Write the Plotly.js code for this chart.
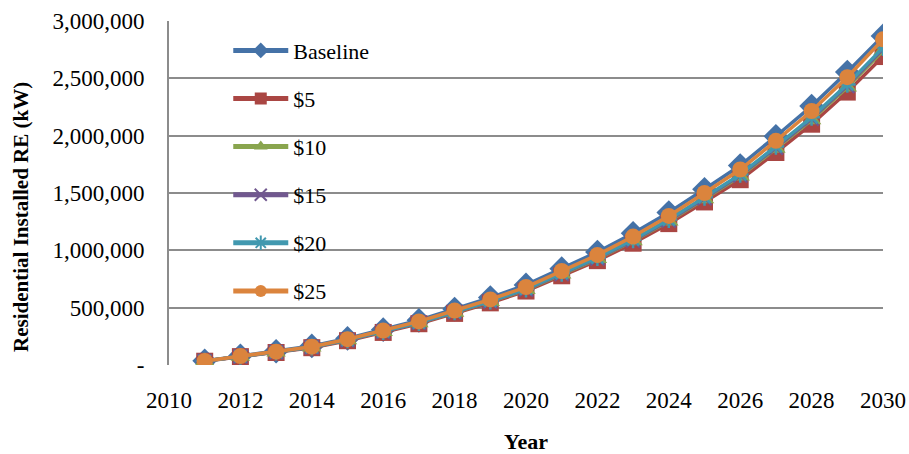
<!DOCTYPE html>
<html>
<head>
<meta charset="utf-8">
<script src="https://cdn.plot.ly/plotly-3.0.1.min.js"></script>
<style>html,body{margin:0;padding:0;background:#fff;}#chart{width:909px;height:454px;}</style>
</head>
<body>
<div id="chart"></div>
<script>
const years = [2011,2012,2013,2014,2015,2016,2017,2018,2019,2020,2021,2022,2023,2024,2025,2026,2027,2028,2029,2030];
const seriesNames = ["Baseline","$5","$10","$15","$20","$25"];
const baseline = [36000,80000,120000,166000,232000,308000,390000,488000,588000,698000,840000,985000,1148000,1330000,1532000,1740000,1995000,2258000,2555000,2870000];
const usd5  = [33000,73000,109000,151000,212000,284000,360000,450000,542000,645000,778000,910000,1062000,1233000,1422000,1616000,1853000,2100000,2380000,2690000];
const usd10 = [34000,75000,112000,154000,217000,289000,367000,458000,552000,656000,791000,926000,1081000,1254000,1447000,1645000,1887000,2137000,2422000,2740000];
const usd15 = [34000,76000,113000,155000,218000,291000,369000,461000,555000,660000,795000,931000,1086000,1261000,1455000,1654000,1896000,2149000,2435000,2755000];
const usd20 = [34000,76000,113000,156000,219000,292000,370000,463000,558000,663000,800000,936000,1092000,1268000,1463000,1662000,1906000,2160000,2447000,2768000];
const usd25 = [35000,78000,116000,160000,225000,300000,380000,475000,572000,680000,820000,960000,1120000,1300000,1500000,1705000,1955000,2215000,2510000,2840000];
const yTickVals = [0,500000,1000000,1500000,2000000,2500000,3000000];
const yTickText = ["-","500,000","1,000,000","1,500,000","2,000,000","2,500,000","3,000,000"];
const xTickVals = [2010,2012,2014,2016,2018,2020,2022,2024,2026,2028,2030];
const yTitle = "Residential Installed RE (kW)";
const xTitle = "Year";

const values = [baseline, usd5, usd10, usd15, usd20, usd25];
const colors = ["#4572A7","#AA4643","#89A54E","#71588F","#4198AF","#DB843D"];
const symbols = ["diamond","square","triangle-up","x-thin-open","asterisk-open","circle"];
const sizes = [19,17,17,14,14,16];

const traces = values.map((v,i)=>({
  x: years, y: v, name: seriesNames[i], type: "scatter", mode: "lines+markers",
  legendgroup: "g"+i,
  line: {color: colors[i], width: 3.5},
  marker: {symbol: symbols[i], size: sizes[i], color: colors[i], line: {color: colors[i], width: (i===3||i===4)?2.5:0}}
}));

const font = "Liberation Serif";
const layout = {
  width: 909, height: 454,
  margin: {l:169, r:26, t:21, b:89},
  paper_bgcolor: "#fff", plot_bgcolor: "#fff",
  font: {family: font, size: 22, color: "#000"},
  showlegend: true,
  legend: {x: 0.083, y: 0.975, xanchor: "left", yanchor: "top", bgcolor: "rgba(0,0,0,0)",
    font: {family: font, size: 22, color: "#000"}, traceorder: "grouped", tracegroupgap: 16.5,
    itemsizing: "constant", itemwidth: 55},
  xaxis: {range: [2010,2030], tickmode: "array", tickvals: xTickVals, ticktext: xTickVals.map(String),
    showgrid: false, zeroline: false, showline: false, ticks: "", ticklabelstandoff: 19,
    tickfont: {family: font, size: 23},
    title: {text: "<b>" + xTitle + "</b>", font: {family: font, size: 22}, standoff: 24}},
  yaxis: {range: [0,3000000], tickmode: "array", tickvals: yTickVals, ticktext: yTickText,
    showgrid: true, gridcolor: "#8c8c8c", gridwidth: 2, zeroline: false,
    showline: true, linecolor: "#8c8c8c", linewidth: 2, ticks: "", ticklabelstandoff: 18,
    tickfont: {family: font, size: 23}},
  annotations: [{text: "<b>" + yTitle + "</b>", xref: "paper", yref: "paper",
    x: -0.2075, y: 0.43, xanchor: "center", yanchor: "middle", textangle: -90, showarrow: false,
    font: {family: font, size: 21, color: "#000"}}]
};
Plotly.newPlot("chart", traces, layout, {displayModeBar: false, staticPlot: true});
</script>
</body>
</html>
